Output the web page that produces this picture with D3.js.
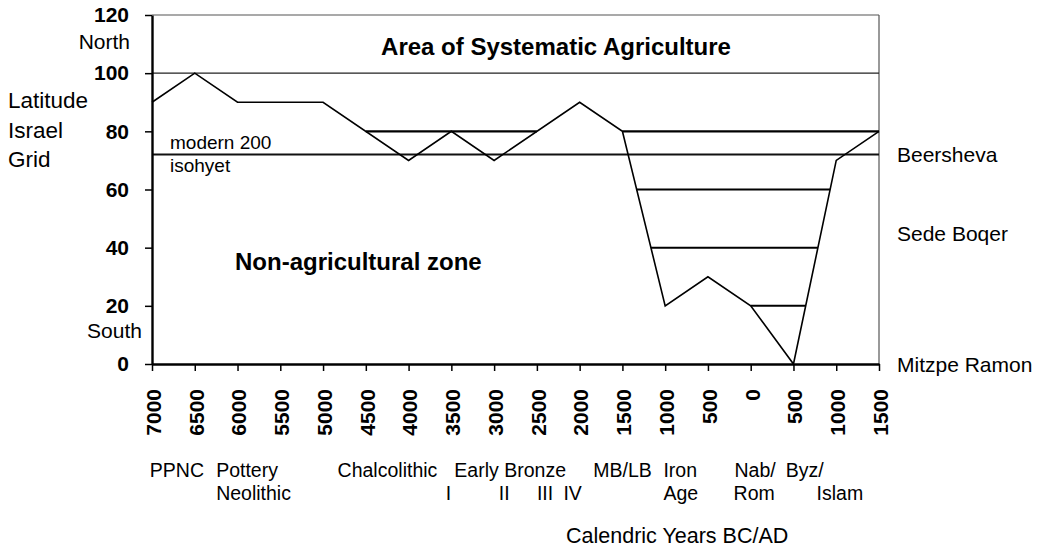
<!DOCTYPE html>
<html>
<head>
<meta charset="utf-8">
<script src="https://cdn.jsdelivr.net/npm/d3@7"></script>
<style>
  body { margin: 0; background: #fff; }
  svg { display: block; font-family: "Liberation Sans", Arial, sans-serif; }
</style>
</head>
<body>
<svg id="chart" width="1045" height="551"></svg>
<script>
// ---- data ----
const years = [-7000, -6500, -6000, -5000, -4000, -3500, -3000, -2000, -1500, -1000, -500, 0, 500, 1000, 1500];
const latitude = [90, 100, 90, 90, 70, 80, 70, 90, 80, 20, 30, 20, 0, 70, 80];

const yTickValues = [0, 20, 40, 60, 80, 100, 120];
const xTickYears = [-7000, -6500, -6000, -5500, -5000, -4500, -4000, -3500, -3000, -2500, -2000, -1500, -1000, -500, 0, 500, 1000, 1500];
const xTickLabels = ["7000", "6500", "6000", "5500", "5000", "4500", "4000", "3500", "3000", "2500", "2000", "1500", "1000", "500", "0", "500", "1000", "1500"];

const agricultureLimit = 100;
const isohyetLevel = 72;

// terrace levels: level and the window of years in which the curve crossings are searched
const terraceLevels = [80, 80, 60, 40, 20];
const terraceWindows = [[-5000, -2000], [-1500, 1500], [-1500, 1500], [-1500, 1500], [0, 1500]];

const placeNames = ["Beersheva", "Sede Boqer", "Mitzpe Ramon"];
const placeLatitudes = [72, 45, 0];

const periodNames = ["PPNC", "Pottery", "Neolithic", "Chalcolithic", "Early Bronze", "I", "II", "III", "IV", "MB/LB", "Iron", "Age", "Nab/", "Rom", "Byz/", "Islam"];
const periodYears = [-7025, -6250, -6250, -4830, -3465, -3565, -2945, -2500, -2190, -1840, -1020, -1020, -190, -200, 410, 770];
const periodRows = [0, 0, 1, 0, 0, 1, 1, 1, 1, 0, 0, 1, 0, 1, 0, 1];

// ---- chart ----
const svg = d3.select("#chart");
const x = d3.scaleLinear().domain([-7000, 1500]).range([152, 879]);
const y = d3.scaleLinear().domain([0, 120]).range([364, 15]);

const xMin = x.domain()[0], xMax = x.domain()[1];

// frame lines
svg.append("line").attr("x1", x(xMin)).attr("x2", x(xMax)).attr("y1", y(120)).attr("y2", y(120))
  .attr("stroke", "#555").attr("stroke-width", 1.2);
svg.append("line").attr("x1", x(xMax)).attr("x2", x(xMax)).attr("y1", y(120)).attr("y2", y(0))
  .attr("stroke", "#555").attr("stroke-width", 1.2);
svg.append("line").attr("x1", x(xMin)).attr("x2", x(xMax)).attr("y1", y(agricultureLimit)).attr("y2", y(agricultureLimit))
  .attr("stroke", "#222").attr("stroke-width", 1.4);
svg.append("line").attr("x1", x(xMin)).attr("x2", x(xMax)).attr("y1", y(isohyetLevel)).attr("y2", y(isohyetLevel))
  .attr("stroke", "#111").attr("stroke-width", 2);

// terrace lines between curve crossings
function crossings(level, lo, hi) {
  const out = [];
  for (let i = 0; i < years.length - 1; i++) {
    const a = latitude[i], b = latitude[i + 1];
    if ((a - level) * (b - level) <= 0 && a !== b) {
      const t = (level - a) / (b - a);
      const yr = years[i] + t * (years[i + 1] - years[i]);
      if (yr >= lo && yr <= hi) out.push(yr);
    } else if (a === level && a === b) {
      if (years[i] >= lo && years[i] <= hi) out.push(years[i]);
      if (years[i + 1] >= lo && years[i + 1] <= hi) out.push(years[i + 1]);
    }
  }
  return [d3.min(out), d3.max(out)];
}
terraceLevels.forEach((lvl, i) => {
  const [a, b] = crossings(lvl, terraceWindows[i][0], terraceWindows[i][1]);
  svg.append("line").attr("x1", x(a)).attr("x2", x(b)).attr("y1", y(lvl)).attr("y2", y(lvl))
    .attr("stroke", "#000").attr("stroke-width", lvl === 80 ? 2.4 : 2);
});

// main curve
const line = d3.line().x((d, i) => x(years[i])).y(d => y(d));
svg.append("path").datum(latitude).attr("d", line)
  .attr("fill", "none").attr("stroke", "#000").attr("stroke-width", 1.6).attr("stroke-linejoin", "miter");

// y axis
const yAxis = svg.append("g").attr("transform", `translate(${x(xMin)},0)`)
  .call(d3.axisLeft(y).tickValues(yTickValues).tickSize(7).tickPadding(16).tickSizeOuter(0));
yAxis.select(".domain").attr("stroke", "#000").attr("stroke-width", 2.4);
yAxis.selectAll(".tick line").attr("stroke", "#000").attr("stroke-width", 1.5);
yAxis.selectAll(".tick text").attr("font-family", "Liberation Sans, Arial, sans-serif")
  .attr("font-size", 21).attr("font-weight", "bold").attr("fill", "#000");

// x axis
const xAxis = svg.append("g").attr("transform", `translate(0,${y(0)})`)
  .call(d3.axisBottom(x).tickValues(xTickYears).tickSize(7).tickSizeOuter(0).tickFormat(""));
xAxis.select(".domain").attr("stroke", "#000").attr("stroke-width", 2.4);
xAxis.selectAll(".tick line").attr("stroke", "#000").attr("stroke-width", 1.5);

svg.append("g").selectAll("text").data(xTickYears).join("text")
  .attr("transform", d => `translate(${x(d)},389) rotate(-90)`)
  .attr("text-anchor", "end").attr("dy", "0.42em")
  .attr("font-size", 21).attr("font-weight", "bold").attr("fill", "#000")
  .text((d, i) => xTickLabels[i]);

// titles & labels
svg.append("text").attr("x", 556).attr("y", 55).attr("text-anchor", "middle")
  .attr("font-size", 24).attr("font-weight", "bold").text("Area of Systematic Agriculture");
svg.append("text").attr("x", 235).attr("y", 270)
  .attr("font-size", 24).attr("font-weight", "bold").text("Non-agricultural zone");

svg.append("text").attr("x", 130).attr("y", 49).attr("text-anchor", "end").attr("font-size", 21).text("North");
svg.append("text").attr("x", 142).attr("y", 338).attr("text-anchor", "end").attr("font-size", 21).text("South");

["Latitude", "Israel", "Grid"].forEach((t, i) => {
  svg.append("text").attr("x", 8).attr("y", 108 + i * 29.5).attr("font-size", 22.5).text(t);
});

svg.append("text").attr("x", 170).attr("y", y(isohyetLevel) - 6).attr("font-size", 19).text("modern 200");
svg.append("text").attr("x", 170).attr("y", y(isohyetLevel) + 17).attr("font-size", 19).text("isohyet");

svg.append("g").selectAll("text").data(placeNames).join("text")
  .attr("x", 897).attr("y", (d, i) => y(placeLatitudes[i])).attr("dy", "0.36em")
  .attr("font-size", 21).text(d => d);

svg.append("g").selectAll("text").data(periodNames).join("text")
  .attr("x", (d, i) => x(periodYears[i])).attr("y", (d, i) => 477 + periodRows[i] * 22.5)
  .attr("font-size", 19.5).text(d => d);

svg.append("text").attr("x", 566).attr("y", 543).attr("font-size", 21.5).text("Calendric Years BC/AD");
</script>
</body>
</html>
